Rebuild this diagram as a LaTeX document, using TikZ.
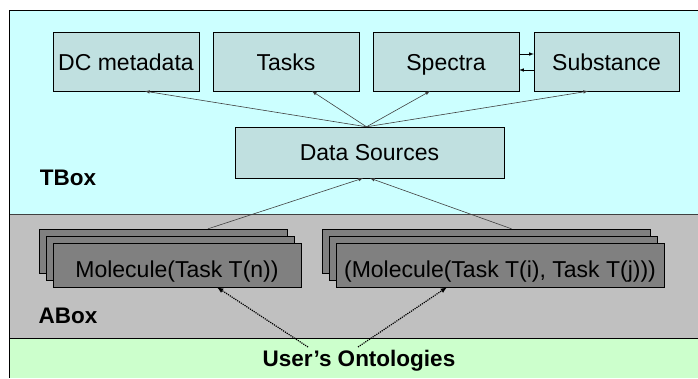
\documentclass[tikz,border=0pt]{standalone}
\usepackage{fontspec}
\setmainfont{Liberation Sans}
\usepackage{tikz}
\usetikzlibrary{arrows,positioning}
\definecolor{tboxbg}{HTML}{CCFFFF}
\definecolor{aboxbg}{HTML}{C0C0C0}
\definecolor{ontobg}{HTML}{CCFFCC}
\definecolor{classfill}{HTML}{C0E0E0}
\definecolor{molfill}{HTML}{808080}
\definecolor{linkgray}{HTML}{404040}

\begin{document}
\begin{tikzpicture}[x=1pt, y=-1pt, >=latex, font=\fontsize{23}{27}\selectfont]
   \useasboundingbox (0,0) rectangle (698,378);
   % layers
   \fill[tboxbg] (9,10) rectangle (698,214);
   \fill[aboxbg] (9,214) rectangle (698,338);
   \fill[ontobg] (9,338) rectangle (698,378);
   \draw[linkgray, thick] (9,214) -- (698,214);
   \draw[black, thick] (9,338) -- (698,338);
   \draw[black, thick] (698,10) -- (9,10) -- (9,378);
   \node[font=\fontsize{22.5}{26}\bfseries] (tbox) at (68,178) {TBox};
   \node[font=\fontsize{22.5}{26}\bfseries] (abox) at (68,316) {ABox};
   \node[font=\fontsize{22.5}{26}\bfseries] (onto) at (359,361) {User's Ontologies};
   \begin{scope}[every node/.style={rectangle,draw=black,fill=classfill,inner sep=0pt,text height=21.4pt,text depth=3pt,minimum height=59pt}]
    \node (dc) at (126,61.5) [minimum width=146pt] {DC metadata};
    \node (ts) at (286,61.5) [minimum width=146pt] {Tasks};
    \node (sp) at (446,61.5) [minimum width=146pt] {Spectra};
    \node (sb) at (606.5,61.5) [minimum width=145pt] {Substance};
    \node (ds) at (369.5,152.5) [minimum width=269pt, minimum height=51pt, text height=19.4pt] {Data Sources};
   \end{scope}
   \begin{scope}[every node/.style={rectangle,draw=black,fill=molfill,inner sep=0pt,text height=27pt,text depth=3pt,minimum height=44pt}]
    \node (mlb) at (163,251) [minimum width=248pt] {};
    \node (mlm) at (170,258) [minimum width=248pt] {};
    \node (ml) at (177,265) [minimum width=248pt, text=black] {Molecule(Task T(n))};
    \node (mrb) at (486,251) [minimum width=328pt] {};
    \node (mrm) at (493,258) [minimum width=328pt] {};
    \node (mr) at (500,265) [minimum width=328pt, text=black] {(Molecule(Task T(i), Task T(j)))};
   \end{scope}
   \coordinate (o1) at (308,347);
   \coordinate (o2) at (358,347);
   \begin{scope}[every path/.style={draw=linkgray,semithick,->}]
    \draw ([xshift=-3pt]ds.north) -- ([xshift=19pt]dc.south);
    \draw ([xshift=-3pt]ds.north) -- ([xshift=26pt]ts.south);
    \draw ([xshift=-3pt]ds.north) -- ([xshift=-16pt]sp.south);
    \draw ([xshift=-3pt]ds.north) -- ([xshift=-18.5pt]sb.south);
    \draw ([xshift=45pt]mlb.north) -- ([xshift=-6.5pt]ds.south);
    \draw ([xshift=25.5pt]mrb.north) -- ([xshift=0.5pt]ds.south);
   \end{scope}
   \draw[black,semithick,->] ([yshift=7.5pt]sp.east) -- ([yshift=7.5pt]sb.west);
   \draw[black,semithick,->] ([yshift=-8.5pt]sb.west) -- ([yshift=-8.5pt]sp.east);
   \begin{scope}[every path/.style={draw=black,very thick,densely dotted,->}]
    \draw (o1) -- ([xshift=40pt]ml.south);
    \draw (o2) -- ([xshift=-53pt]mr.south);
   \end{scope}
\end{tikzpicture}
\end{document}
